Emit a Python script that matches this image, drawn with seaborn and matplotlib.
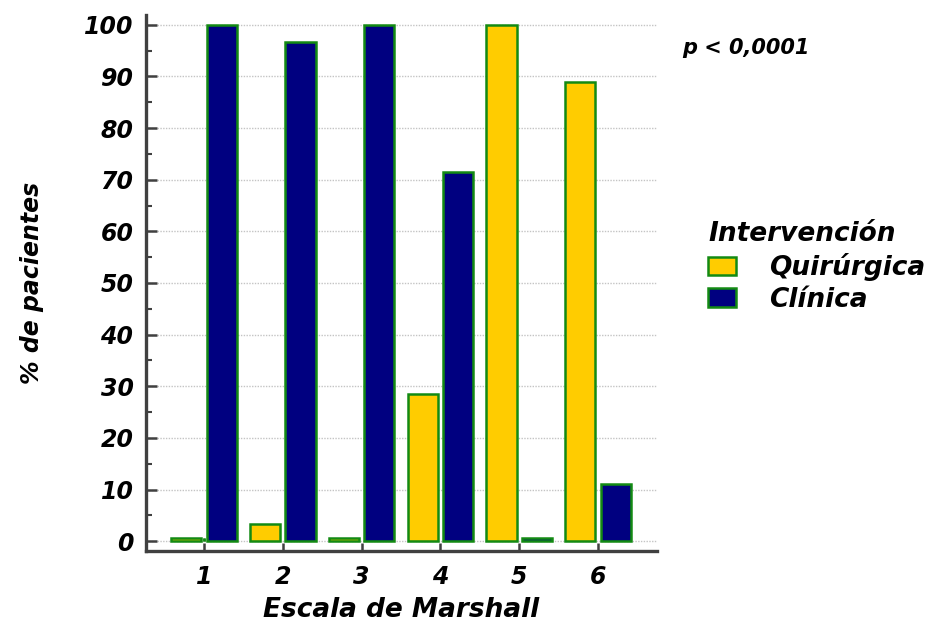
import numpy as np
import pandas as pd
import matplotlib
matplotlib.use("Agg")
import matplotlib.pyplot as plt
from matplotlib.ticker import MultipleLocator
import seaborn as sns

# Data: % of patients per Marshall scale grade, by type of intervention
escala = ["1", "2", "3", "4", "5", "6"]
quirurgica = [0.0, 3.3, 0.0, 28.6, 100.0, 88.9]
clinica = [100.0, 96.7, 100.0, 71.4, 0.0, 11.1]
grupos = ["Quirúrgica", "Clínica"]
colores = {"Quirúrgica": "#FFCC00", "Clínica": "#000080"}

df = pd.DataFrame({
    "escala": escala * 2,
    "pct": quirurgica + clinica,
    "grupo": [grupos[0]] * len(escala) + [grupos[1]] * len(escala),
})

sns.set_style("white")
plt.rcParams["font.family"] = ["DejaVu Sans"]
plt.rcParams["font.weight"] = "bold"
plt.rcParams["font.style"] = "oblique"
plt.rcParams["text.color"] = "black"
plt.rcParams["axes.labelcolor"] = "black"
plt.rcParams["xtick.labelcolor"] = "black"
plt.rcParams["ytick.labelcolor"] = "black"

fig = plt.figure(figsize=(9.3, 6.25), dpi=100)
ax = fig.add_axes([0.157, 0.1184, 0.5495, 0.8576])

sns.barplot(data=df, x="escala", y="pct", hue="grupo", order=escala,
            hue_order=grupos, palette=colores, saturation=1, width=0.9,
            gap=0.15, edgecolor="#138A13", linewidth=1.8, errorbar=None,
            ax=ax, zorder=3)

# keep empty categories visible as a thin box on the baseline
for p in ax.patches:
    if p.get_height() == 0:
        p.set_height(0.7)

ax.set_xlim(-0.736, 5.75)
ax.set_ylim(-1.9, 101.9)
ax.yaxis.set_major_locator(MultipleLocator(10))
ax.yaxis.set_minor_locator(MultipleLocator(5))

ax.grid(axis="y", which="major", color="#c4c4c4", linestyle=(0, (1, 1)),
        linewidth=1.0, zorder=0)
ax.grid(axis="x", visible=False)

for side in ("top", "right"):
    ax.spines[side].set_visible(False)
for side in ("left", "bottom"):
    ax.spines[side].set_color("#404040")
    ax.spines[side].set_linewidth(2.4)

ax.tick_params(axis="y", which="major", direction="in", length=8, width=1.8,
               color="#404040", pad=9, labelsize=17, left=True)
ax.tick_params(axis="y", which="minor", direction="in", length=4.5, width=1.5,
               color="#404040", left=True)
ax.tick_params(axis="x", which="major", direction="in", length=6, width=1.8,
               color="#404040", pad=10, labelsize=17, bottom=True)

ax.set_xlabel("Escala de Marshall", fontsize=19, fontweight="bold",
              fontstyle="oblique", labelpad=6)
ax.set_ylabel("% de pacientes", fontsize=17, fontweight="bold",
              fontstyle="oblique", labelpad=29)

sns.move_legend(ax, loc="upper left", bbox_to_anchor=(1.10, 0.615),
                frameon=False, title="Intervención", fontsize=19,
                title_fontproperties={"size": 19, "weight": "bold",
                                      "style": "oblique"},
                alignment="left", handlelength=1.05, handleheight=0.7,
                handletextpad=1.25, labelspacing=0.22, borderaxespad=0,
                borderpad=0)

fig.text(0.734, 0.923, "p < 0,0001", fontsize=15, fontweight="bold",
         fontstyle="oblique", ha="left", va="center")

fig.savefig("out.png", dpi=100, facecolor="white")
